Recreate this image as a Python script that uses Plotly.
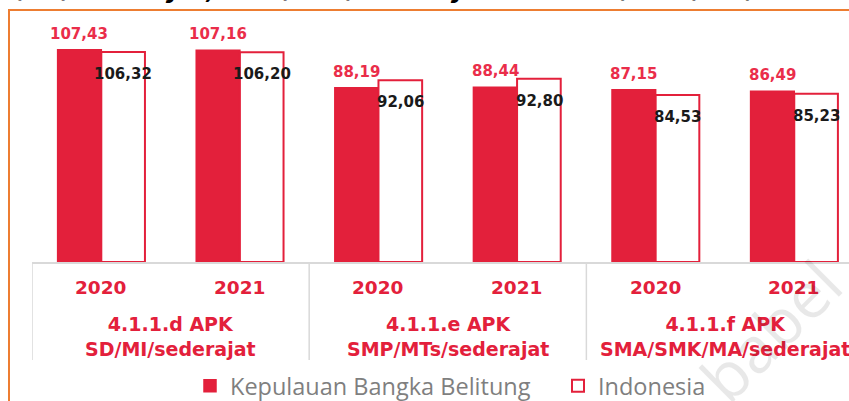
import plotly.graph_objects as go

# APK (Angka Partisipasi Kasar) per jenjang, 2020-2021
groups = ["4.1.1.d APK<br>SD/MI/sederajat", "4.1.1.e APK<br>SMP/MTs/sederajat", "4.1.1.f APK<br>SMA/SMK/MA/sederajat"]
years = ["2020", "2021", "2020", "2021", "2020", "2021"]
slots = ["d-2020", "d-2021", "e-2020", "e-2021", "f-2020", "f-2021"]
babel = [107.43, 107.16, 88.19, 88.44, 87.15, 86.49]
indonesia = [106.32, 106.20, 92.06, 92.80, 84.53, 85.23]
series_names = ["Kepulauan Bangka Belitung", "Indonesia"]

RED = "#E3203B"
LABEL_RED = "#EA2D4A"
GRID = "#D9D9D9"

# plot area geometry in pixels (used to convert px offsets to paper coords)
PLOT_L = 32
PLOT_W = 817
PLOT_H = 242
BAR_HALF = 22


def fmt(v):
    """ angka format Indonesia: koma desimal """
    return f"{v:.2f}".replace(".", ",")


fig = go.Figure()
fig.add_trace(go.Bar(x=slots, y=babel, name=series_names[0],
                     marker=dict(color=RED, line=dict(color=RED, width=1.5))))
fig.add_trace(go.Bar(x=slots, y=indonesia, name=series_names[1],
                     marker=dict(color="white", line=dict(color=RED, width=2))))

annotations = []
for s, yr, b, i in zip(slots, years, babel, indonesia):
    # nilai Babel di atas batang
    annotations.append(dict(x=s, y=b, xref="x", yref="y", text=fmt(b), showarrow=False,
                            xshift=-BAR_HALF, yanchor="bottom", yshift=5,
                            font=dict(family="DejaVu Sans", size=15, color=LABEL_RED, weight="bold")))
    # nilai Indonesia di dalam batang
    annotations.append(dict(x=s, y=i, xref="x", yref="y", text=fmt(i), showarrow=False,
                            xshift=BAR_HALF, yanchor="middle", yshift=-22,
                            font=dict(family="DejaVu Sans", size=15, color="#1A1A1A", weight="bold")))
    # label tahun
    annotations.append(dict(x=s, y=0, xref="x", yref="paper", text=yr, showarrow=False,
                            yanchor="middle", yshift=-25,
                            font=dict(family="DejaVu Sans", size=18.5, color=RED, weight="bold")))

for k, g in enumerate(groups):
    annotations.append(dict(x=2 * k + 0.5, y=0, xref="x", yref="paper", text=g, showarrow=False,
                            yanchor="middle", yshift=-74,
                            font=dict(family="DejaVu Sans", size=19, color=RED, weight="bold")))

# judul gambar yang terpotong di atas
annotations.append(dict(x=0, y=1, xref="paper", yref="paper", xanchor="left", yanchor="bottom",
                        xshift=-52, yshift=14, showarrow=False,
                        text="<b><i>SD/MI/sederajat, SMP/MTs/sederajat dan SMA/SMK/MA/sederajat</i></b>",
                        font=dict(family="DejaVu Sans", size=25, color="black")))

# watermark
annotations.append(dict(x=(770 - PLOT_L) / PLOT_W, y=(262 - 330) / PLOT_H, xref="paper", yref="paper",
                        xanchor="center", yanchor="middle",
                        text="babel", showarrow=False, textangle=-45,
                        font=dict(family="Open Sans", size=64, color="rgba(0,0,0,0.09)")))

shapes = []
for x0 in [-0.5, 1.5, 3.5]:
    shapes.append(dict(type="line", xref="x", yref="paper", x0=x0, x1=x0, y0=0, y1=-98 / PLOT_H,
                       line=dict(color=GRID, width=1.5)))
# bingkai oranye
shapes.append(dict(type="rect", xref="paper", yref="paper", x0=-23 / PLOT_W, x1=1.05, y0=-1, y1=1 + 10 / PLOT_H,
                   line=dict(color="#ED7D31", width=2), fillcolor="rgba(0,0,0,0)", layer="below"))

fig.update_layout(
    width=849,
    height=401,
    margin=dict(l=PLOT_L, r=0, t=20, b=139, autoexpand=False),
    paper_bgcolor="white",
    plot_bgcolor="white",
    barmode="group",
    bargap=0.37,
    bargroupgap=0,
    showlegend=True,
    legend=dict(orientation="h", x=(190 - PLOT_L) / PLOT_W, xanchor="left", y=-124 / PLOT_H, yanchor="middle",
                font=dict(family="Open Sans", size=23.5, color="#7F7F7F"), itemwidth=30, entrywidth=323),
    annotations=annotations,
    shapes=shapes,
    xaxis=dict(range=[-0.5, 5.395], showticklabels=False, showgrid=False, zeroline=False,
               showline=True, linecolor=GRID, linewidth=1.5, fixedrange=True),
    yaxis=dict(range=[0, 122.5], visible=False, fixedrange=True),
)

fig.write_html("out.html", config={"displayModeBar": False},
               post_script="document.body.style.margin='0';document.body.style.overflow='hidden';")
